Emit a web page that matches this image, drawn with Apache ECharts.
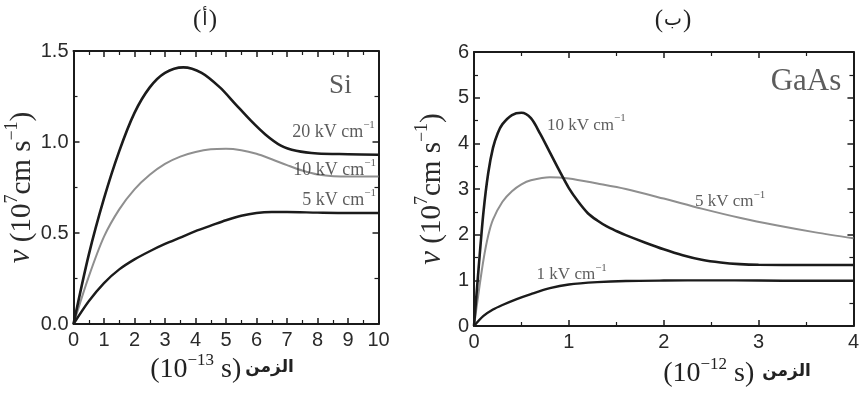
<!DOCTYPE html>
<html>
<head>
<meta charset="utf-8">
<script src="https://cdn.jsdelivr.net/npm/echarts@6/dist/echarts.min.js"></script>
<style>
html,body{margin:0;padding:0;background:#fff;}
#chart{width:862px;height:394px;}
</style>
</head>
<body>
<div id="chart"></div>
<script>
// ---------- DATA ----------
// Panel (أ): Si, time in 10^-13 s, velocity in 10^7 cm/s
const siTime20 = [0, 0.5, 1.0, 1.5, 2.0, 2.5, 3.0, 3.6, 4.2, 4.8, 5.3, 5.8, 6.3, 6.8, 7.3, 8.0, 9.0, 10];
const siVel20  = [0, 0.38, 0.69, 0.95, 1.16, 1.30, 1.38, 1.41, 1.38, 1.30, 1.21, 1.12, 1.04, 0.98, 0.952, 0.937, 0.933, 0.93];
const siTime10 = [0, 0.5, 1.0, 1.5, 2.0, 2.5, 3.0, 3.5, 4.0, 4.5, 5.0, 5.5, 6.0, 6.5, 7.0, 7.5, 8.0, 9.0, 10];
const siVel10  = [0, 0.26, 0.48, 0.63, 0.74, 0.82, 0.88, 0.92, 0.945, 0.96, 0.963, 0.955, 0.935, 0.905, 0.873, 0.843, 0.822, 0.81, 0.81];
const siTime5  = [0, 0.5, 1.0, 1.5, 2.0, 2.5, 3.0, 3.5, 4.0, 4.5, 5.0, 5.5, 6.0, 6.5, 7.0, 8.0, 9.0, 10];
const siVel5   = [0, 0.125, 0.225, 0.30, 0.355, 0.40, 0.44, 0.475, 0.51, 0.54, 0.57, 0.595, 0.61, 0.615, 0.615, 0.612, 0.61, 0.61];

// Panel (ب): GaAs, time in 10^-12 s
const gaTime10 = [0, 0.05, 0.1, 0.15, 0.2, 0.25, 0.3, 0.4, 0.5, 0.6, 0.7, 0.8, 0.9, 1.0, 1.1, 1.2, 1.3, 1.4, 1.5, 1.6, 1.8, 2.0, 2.2, 2.4, 2.6, 2.8, 3.0, 3.5, 4.0];
const gaVel10  = [0, 1.3, 2.5, 3.35, 3.9, 4.22, 4.42, 4.62, 4.67, 4.55, 4.2, 3.8, 3.4, 3.02, 2.72, 2.47, 2.31, 2.18, 2.08, 1.99, 1.83, 1.68, 1.55, 1.45, 1.39, 1.355, 1.34, 1.335, 1.335];
const gaTime5  = [0, 0.05, 0.1, 0.15, 0.2, 0.3, 0.4, 0.5, 0.6, 0.8, 1.0, 1.3, 1.6, 2.0, 2.4, 2.8, 3.2, 3.6, 4.0];
const gaVel5   = [0, 0.75, 1.45, 1.98, 2.33, 2.72, 2.95, 3.1, 3.19, 3.26, 3.23, 3.12, 3.0, 2.79, 2.57, 2.37, 2.2, 2.05, 1.92];
const gaTime1  = [0, 0.1, 0.2, 0.3, 0.45, 0.6, 0.8, 1.0, 1.3, 1.6, 2.0, 2.5, 3.0, 3.5, 4.0];
const gaVel1   = [0, 0.22, 0.36, 0.46, 0.59, 0.70, 0.83, 0.91, 0.96, 0.985, 0.995, 1.0, 0.995, 0.99, 0.99];

// Text
const siLabels = ['20 kV cm', '10 kV cm', '5 kV cm'];
const gaLabels = ['10 kV cm', '5 kV cm', '1 kV cm'];
const panelLetters = ['أ', 'ب'];
const materials = ['Si', 'GaAs'];
const timeWord = 'الزمن';

// ---------- ANNOTATION PLACEMENT (data coordinates) ----------
const siNotePos = [[9.88, 1.065], [9.92, 0.855], [9.92, 0.69]];
const gaNotePos = [[0.77, 4.44], [2.33, 2.76], [0.66, 1.16]];

const pairs = (xs, ys) => xs.map((x, i) => [x, ys[i]]);

const DARK = '#1b1b1b';
const GRAY = '#8f8f8f';
const TXT = '#2a2a2a';
const tickFont = "'Liberation Sans',Arial,sans-serif";
const serif = "'Liberation Serif','Times New Roman',serif";
const arabic = "'DejaVu Sans',sans-serif";

function xAx(gridIndex, pos, max, showLabel) {
  return {
    type: 'value', gridIndex, position: pos, min: 0, max, interval: 1,
    axisLine: {show: true, onZero: false, lineStyle: {color: DARK, width: 2}},
    axisTick: {show: true, inside: true, length: 6, lineStyle: {color: DARK, width: 1.5}},
    minorTick: {show: true, splitNumber: 2, length: 4, lineStyle: {color: DARK, width: 1.2}},
    axisLabel: {show: showLabel, color: TXT, fontSize: 20, fontFamily: tickFont, margin: 6},
    splitLine: {show: false}
  };
}
function yAx(gridIndex, pos, max, interval, minorSplit, showLabel, fmt) {
  return {
    type: 'value', gridIndex, position: pos, min: 0, max, interval,
    axisLine: {show: true, onZero: false, lineStyle: {color: DARK, width: 2}},
    axisTick: {show: true, inside: true, length: 6, lineStyle: {color: DARK, width: 1.5}},
    minorTick: {show: true, splitNumber: minorSplit, length: 4, lineStyle: {color: DARK, width: 1.2}},
    axisLabel: {show: showLabel, color: TXT, fontSize: 20, fontFamily: tickFont, margin: 5, formatter: fmt},
    splitLine: {show: false}
  };
}

const yNameRich = {
  i: {fontFamily: serif, fontStyle: 'italic', fontSize: 31, color: TXT, verticalAlign: 'bottom', lineHeight: 34},
  n: {fontFamily: serif, fontSize: 29, color: TXT, verticalAlign: 'bottom', lineHeight: 34},
  s: {fontFamily: serif, fontSize: 18, color: TXT, verticalAlign: 'top', lineHeight: 34}
};
const yName = '{i|v}{n| (10}{s|7}{n|cm s}{s|−1}{n|)}';

function lineSeries(xi, yi, xs, ys, color, width) {
  return {
    type: 'line', xAxisIndex: xi, yAxisIndex: yi, data: pairs(xs, ys),
    smooth: 0.3, showSymbol: false, symbol: 'none',
    lineStyle: {color, width}, z: 3, animation: false
  };
}

function noteSeries(xi, yi, texts, pos, align, fs) {
  const rich = {
    t: {fontFamily: serif, fontSize: fs, color: '#333', verticalAlign: 'bottom', lineHeight: fs + 4},
    s: {fontFamily: serif, fontSize: Math.round(fs * 0.62), color: '#333', verticalAlign: 'top', lineHeight: fs + 4}
  };
  return {
    type: 'scatter', xAxisIndex: xi, yAxisIndex: yi, symbolSize: 0, silent: true, animation: false,
    data: texts.map((t, i) => ({value: pos[i], name: t, label: {align: align[i]}})),
    label: {show: true, position: 'inside', verticalAlign: 'middle',
      formatter: p => '{t|' + p.name + '}{s|−1}', rich},
    z: 5
  };
}
function matSeries(xi, yi, text, pos, fs) {
  return {
    type: 'scatter', xAxisIndex: xi, yAxisIndex: yi, symbolSize: 0, silent: true, animation: false,
    data: [{value: pos, name: text}],
    label: {show: true, position: 'inside', formatter: '{b}', fontFamily: serif, fontSize: fs, color: '#333'},
    z: 5
  };
}

function titleText(cx, cy, letter) {
  return {type: 'text', x: cx, y: cy, style: {
    text: '{p|(}{a|' + letter + '}{p|)}', align: 'center', verticalAlign: 'middle',
    rich: {
      p: {fontFamily: serif, fontSize: 25, fill: '#222'},
      a: {fontFamily: arabic, fontSize: 19, fill: '#222', padding: [0, 1, 0, 1]}
    }}};
}
function xNameText(cx, cy, expo, gap) {
  const lh = 32;
  return {type: 'text', x: cx, y: cy, style: {
    text: '{p|(10}{s|' + expo + '}{p| s)}{g|' + gap + '}{a|' + timeWord + '}',
    align: 'center', verticalAlign: 'middle',
    rich: {
      p: {fontFamily: serif, fontSize: 28, fill: '#222', verticalAlign: 'bottom', lineHeight: lh},
      s: {fontFamily: serif, fontSize: 17, fill: '#222', verticalAlign: 'top', lineHeight: lh},
      g: {fontFamily: serif, fontSize: 16, lineHeight: lh},
      a: {fontFamily: arabic, fontWeight: 'bold', fontSize: 17, fill: '#222', verticalAlign: 'middle', lineHeight: lh}
    }}};
}

const chart = echarts.init(document.getElementById('chart'), null, {renderer: 'canvas'});
chart.setOption({
  backgroundColor: '#fff',
  animation: false,
  grid: [
    {left: 73.5, right: 483.5, top: 51, bottom: 70},
    {left: 474, right: 5, top: 52, bottom: 68}
  ],
  xAxis: [
    xAx(0, 'bottom', 10, true),
    xAx(0, 'top', 10, false),
    xAx(1, 'bottom', 4, true),
    xAx(1, 'top', 4, false)
  ],
  yAxis: [
    Object.assign(yAx(0, 'left', 1.5, 0.5, 2, true, v => v.toFixed(1)),
      {name: yName, nameLocation: 'middle', nameRotate: 90, nameGap: 33, nameTextStyle: {rich: yNameRich}}),
    yAx(0, 'right', 1.5, 0.5, 2, false),
    Object.assign(yAx(1, 'left', 6, 1, 2, true, v => String(v)),
      {name: yName, nameLocation: 'middle', nameRotate: 90, nameGap: 27, nameTextStyle: {rich: yNameRich}}),
    yAx(1, 'right', 6, 1, 2, false)
  ],
  series: [
    lineSeries(0, 0, siTime10, siVel10, GRAY, 2),
    lineSeries(0, 0, siTime20, siVel20, DARK, 2.6),
    lineSeries(0, 0, siTime5, siVel5, DARK, 2.4),
    lineSeries(2, 2, gaTime5, gaVel5, GRAY, 2),
    lineSeries(2, 2, gaTime10, gaVel10, DARK, 2.6),
    lineSeries(2, 2, gaTime1, gaVel1, DARK, 2.4),
    noteSeries(0, 0, siLabels, siNotePos, ['right', 'right', 'right'], 18),
    noteSeries(2, 2, gaLabels, gaNotePos, ['left', 'left', 'left'], 17),
    matSeries(0, 0, materials[0], [8.75, 1.31], 27),
    matSeries(2, 2, materials[1], [3.5, 5.34], 31)
  ],
  graphic: [
    titleText(205, 20, panelLetters[0]),
    titleText(673, 20, panelLetters[1]),
    xNameText(222, 368, '−13', ' '),
    xNameText(737, 372, '−12', '  ')
  ]
});
</script>
</body>
</html>
